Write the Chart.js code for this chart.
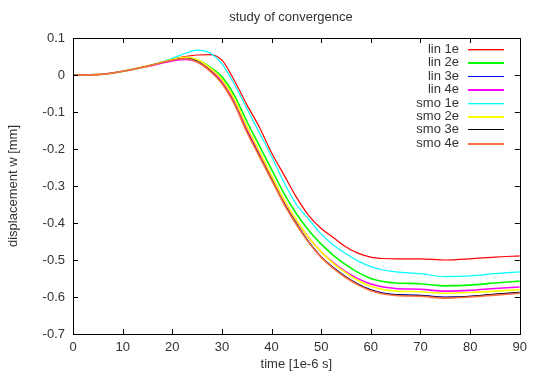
<!DOCTYPE html>
<html lang="en">
<head>
    <meta charset="UTF-8">
    <title>study of convergence</title>
    <script src="https://cdn.jsdelivr.net/npm/chart.js"></script>
    <style>
        html, body { margin: 0; padding: 0; background: #fff; }
        #wrap { width: 533px; height: 376px; }
    </style>
</head>
<body>
    <div id="wrap"><canvas id="convChart" width="533" height="376"></canvas></div>
    <script>
        // time [1e-6 s]
        const times = [0, 5, 10, 15, 20, 22.5, 25, 27.5, 30, 32.5, 35, 37.5, 40, 42.5, 45, 47.5, 50, 52.5, 55, 57.5, 60, 62.5, 65, 70, 75, 80, 85, 90];

        // displacement w [mm]
        const lin1e = [0, 0.001, 0.01, 0.024, 0.042, 0.05, 0.054, 0.055, 0.04, -0.015, -0.08, -0.14, -0.21, -0.27, -0.33, -0.38, -0.415, -0.44, -0.465, -0.482, -0.492, -0.496, -0.497, -0.497, -0.5, -0.497, -0.492, -0.489];
        const lin2e = [0, 0.001, 0.01, 0.024, 0.041, 0.046, 0.041, 0.022, -0.005, -0.055, -0.125, -0.19, -0.255, -0.32, -0.375, -0.42, -0.457, -0.488, -0.513, -0.534, -0.55, -0.558, -0.562, -0.564, -0.57, -0.568, -0.562, -0.557];
        const lin3e = [0, 0.001, 0.01, 0.024, 0.04, 0.046, 0.038, 0.015, -0.02, -0.075, -0.15, -0.215, -0.28, -0.345, -0.4, -0.45, -0.49, -0.52, -0.545, -0.565, -0.58, -0.589, -0.593, -0.595, -0.6, -0.598, -0.593, -0.589];
        const lin4e = [0, 0.001, 0.01, 0.023, 0.038, 0.042, 0.036, 0.015, -0.018, -0.072, -0.145, -0.21, -0.275, -0.338, -0.393, -0.44, -0.478, -0.508, -0.532, -0.551, -0.565, -0.573, -0.577, -0.579, -0.584, -0.582, -0.577, -0.573];
        const smo1e = [0, 0.001, 0.01, 0.024, 0.045, 0.058, 0.067, 0.06, 0.03, -0.025, -0.09, -0.155, -0.22, -0.29, -0.35, -0.39, -0.43, -0.46, -0.483, -0.503, -0.518, -0.527, -0.532, -0.537, -0.545, -0.543, -0.537, -0.532];
        const smo2e = [0, 0.001, 0.01, 0.024, 0.042, 0.048, 0.042, 0.02, -0.012, -0.065, -0.138, -0.205, -0.272, -0.337, -0.392, -0.44, -0.478, -0.51, -0.535, -0.556, -0.571, -0.58, -0.584, -0.586, -0.59, -0.588, -0.584, -0.58];
        const smo3e = [0, 0.001, 0.01, 0.024, 0.04, 0.045, 0.037, 0.014, -0.021, -0.076, -0.151, -0.216, -0.281, -0.346, -0.401, -0.451, -0.491, -0.521, -0.546, -0.566, -0.581, -0.59, -0.594, -0.596, -0.601, -0.598, -0.592, -0.587];
        const smo4e = [0, 0.001, 0.01, 0.024, 0.04, 0.044, 0.035, 0.012, -0.023, -0.079, -0.154, -0.219, -0.284, -0.349, -0.404, -0.453, -0.493, -0.523, -0.548, -0.568, -0.583, -0.592, -0.596, -0.598, -0.603, -0.6, -0.595, -0.59];

        const seriesNames = ['lin 1e', 'lin 2e', 'lin 3e', 'lin 4e', 'smo 1e', 'smo 2e', 'smo 3e', 'smo 4e'];
        const seriesValues = [lin1e, lin2e, lin3e, lin4e, smo1e, smo2e, smo3e, smo4e];
        const seriesColors = ['#ff0000', '#00ff00', '#0000ff', '#ff00ff', '#00ffff', '#ffff00', '#000000', '#ff7040'];
        // light colours look heavier in the original
        const seriesWidths = [1.2, 1.6, 1, 1.6, 1.2, 1.6, 1, 1.6];

        const xTicks = [0, 10, 20, 30, 40, 50, 60, 70, 80, 90];
        const yTicks = [-0.7, -0.6, -0.5, -0.4, -0.3, -0.2, -0.1, 0, 0.1];
        const yTickLabels = ['-0.7', '-0.6', '-0.5', '-0.4', '-0.3', '-0.2', '-0.1', '0', '0.1'];

        const FONT = 'Liberation Sans, Arial, sans-serif';
        const TEXT = '#333';

        const datasets = seriesNames.map((name, i) => ({
            label: name,
            data: times.map((t, j) => ({ x: t, y: seriesValues[i][j] })),
            borderColor: seriesColors[i],
            borderWidth: seriesWidths[i],
            pointRadius: 0,
            cubicInterpolationMode: 'monotone',
            fill: false,
            order: seriesNames.length - i   // gnuplot draws the last one on top
        }));

        // frame, inward ticks on all four sides, title and key (gnuplot look)
        const gnuplotLook = {
            id: 'gnuplotLook',
            afterDatasetsDraw(chart) {
                const ctx = chart.ctx;
                const a = chart.chartArea;
                const xs = chart.scales.x, ys = chart.scales.y;
                ctx.save();
                ctx.strokeStyle = '#000';
                ctx.lineWidth = 1;
                ctx.beginPath();
                xTicks.forEach(v => {
                    const px = Math.round(xs.getPixelForValue(v)) + 0.5;
                    ctx.moveTo(px, a.bottom); ctx.lineTo(px, a.bottom - 5);
                    ctx.moveTo(px, a.top); ctx.lineTo(px, a.top + 5);
                });
                yTicks.forEach(v => {
                    const py = Math.round(ys.getPixelForValue(v)) + 0.5;
                    ctx.moveTo(a.left, py); ctx.lineTo(a.left + 5, py);
                    ctx.moveTo(a.right, py); ctx.lineTo(a.right - 5, py);
                });
                ctx.stroke();
                ctx.strokeRect(Math.round(a.left) + 0.5, Math.round(a.top) + 0.5,
                    Math.round(a.right - a.left), Math.round(a.bottom - a.top));

                ctx.fillStyle = TEXT;
                ctx.font = '13px ' + FONT;
                ctx.textAlign = 'center';
                ctx.textBaseline = 'middle';
                ctx.fillText('study of convergence', 291, 17);

                // key: label right-aligned, sample line to its right
                ctx.textAlign = 'right';
                chart.data.datasets.forEach((ds, i) => {
                    const y = Math.round(49 + i * 13.4);
                    ctx.fillStyle = TEXT;
                    ctx.fillText(ds.label, 459, y);
                    ctx.fillStyle = ds.borderColor;
                    ctx.fillRect(468, y, 36, 1);
                    if (ds.borderWidth > 1) {
                        ctx.globalAlpha = ds.borderWidth > 1.4 ? 1 : 0.35;
                        ctx.fillRect(468, y + 1, 36, 1);
                        ctx.globalAlpha = 1;
                    }
                });
                ctx.restore();
            }
        };

        new Chart(document.getElementById('convChart'), {
            type: 'line',
            data: { datasets: datasets },
            options: {
                responsive: false,
                animation: false,
                layout: { padding: { left: 0, right: 13, top: 38, bottom: 0 } },
                plugins: {
                    legend: { display: false },
                    title: { display: false },
                    tooltip: { enabled: false }
                },
                scales: {
                    x: {
                        type: 'linear',
                        min: 0, max: 90,
                        afterBuildTicks: s => { s.ticks = xTicks.map(v => ({ value: v })); },
                        afterFit: s => { s.height = 42; },
                        grid: { display: false, drawTicks: false },
                        border: { display: false },
                        ticks: { color: TEXT, font: { family: FONT, size: 13 }, padding: 6, maxRotation: 0 },
                        title: { display: true, text: 'time [1e-6 s]', color: TEXT, font: { family: FONT, size: 13 }, padding: { top: 0, bottom: 4 } }
                    },
                    y: {
                        type: 'linear',
                        min: -0.7, max: 0.1,
                        afterBuildTicks: s => { s.ticks = yTicks.map(v => ({ value: v })); },
                        afterFit: s => { s.width = 73; },
                        grid: { display: false, drawTicks: false },
                        border: { display: false },
                        ticks: {
                            color: TEXT, font: { family: FONT, size: 13 }, padding: 8,
                            callback: (v, i) => yTickLabels[i]
                        },
                        title: { display: true, text: 'displacement w [mm]', color: TEXT, font: { family: FONT, size: 13 }, padding: { top: 6, bottom: 0 } }
                    }
                }
            },
            plugins: [gnuplotLook]
        });
    </script>
</body>
</html>
